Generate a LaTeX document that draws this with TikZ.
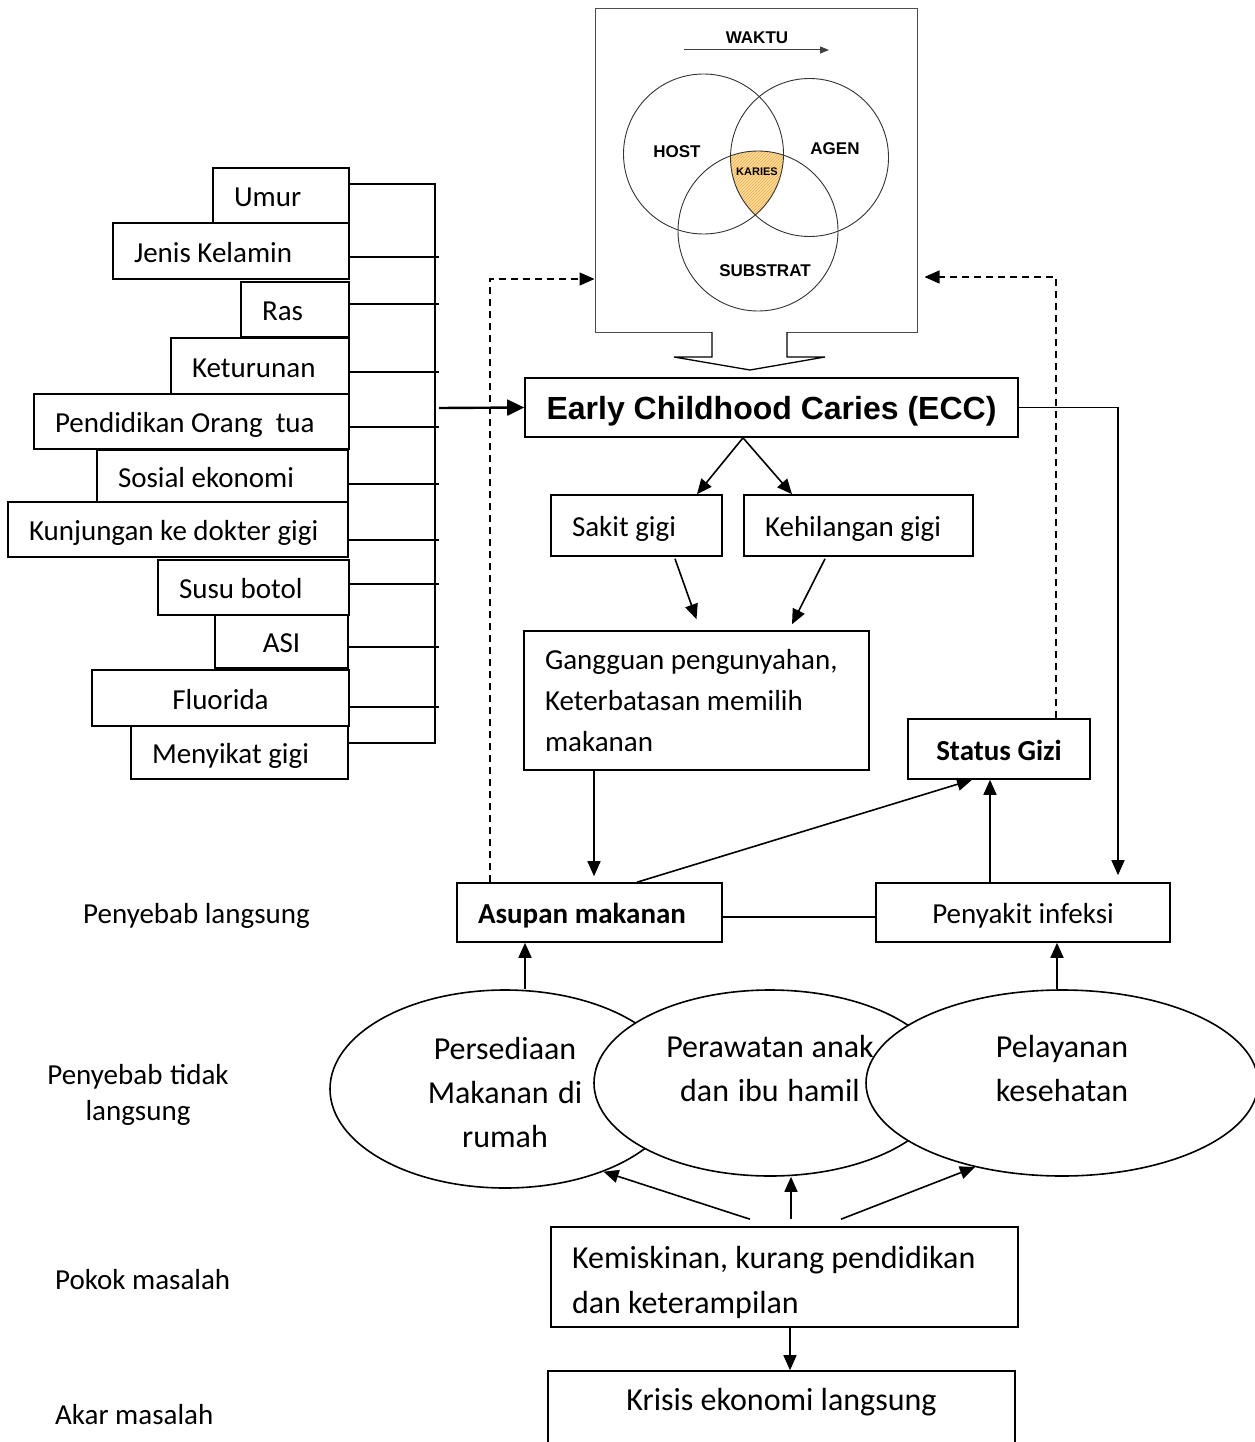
\documentclass[tikz,border=0pt]{standalone}
\usepackage{fontspec}
\setmainfont{Carlito}
\newfontfamily\arialf{Liberation Sans}
\usetikzlibrary{arrows.meta,patterns,shapes.geometric}
\newcommand\fsz[2]{\fontsize{#1}{#2}\selectfont}
\begin{document}
\begin{tikzpicture}[x=1pt,y=-1pt,
  nsp/.style={execute at begin node={\spaceskip=0pt\xspaceskip=0pt\relax}},
  box/.style={draw, line width=1.6pt, inner xsep=21pt, inner ysep=0pt, font=\fsz{29}{41}, nsp},
  lbox/.style={box, text width=#1, align=left},
  cbox/.style={box, minimum width=#1, inner xsep=0pt, align=center},
  one/.style={text height=22pt, text depth=0pt},
  arr/.style={line width=1.6pt, -{Triangle[length=15pt,width=13pt]}},
  ln/.style={line width=1.6pt},
  dsh/.style={line width=1.5pt, dash pattern=on 7pt off 5pt, -{Triangle[length=15pt,width=13pt]}},
  ell/.style={ellipse, draw, fill=white, line width=1.6pt, inner sep=0pt, text width=230pt, align=center, font=\fsz{32}{44}, text height=22pt, nsp},
  vt/.style={font=\arialf\bfseries\fsz{17}{20}, inner sep=0pt},
  lab/.style={font=\fsz{29}{36}, inner sep=0pt, nsp},
]
\fill[white] (0,0) rectangle (1254,1442);
\useasboundingbox (0,0) rectangle (1254,1442);

% ---------- left factor boxes ----------
\node[lbox=94pt, one, minimum height=55pt] (umur) at (281,195.5) {Umur};
\node[lbox=194pt, one, minimum height=56pt] (jk) at (231,251) {Jenis Kelamin};
\node[lbox=66pt, one, minimum height=55pt] (ras) at (295,309.5) {Ras};
\node[lbox=136pt, one, minimum height=56pt] (ket) at (260,366) {Keturunan};
\node[lbox=273pt, one, minimum height=55pt] (pend) at (191.5,421.5) {Pendidikan Orang\ \ tua};
\node[lbox=209pt, one, minimum height=52pt] (sos) at (222.5,476) {Sosial ekonomi};
\node[lbox=298pt, one, minimum height=55pt] (kun) at (178,529.5) {Kunjungan ke dokter gigi};
\node[lbox=149pt, one, minimum height=55pt] (susu) at (253.5,587.5) {Susu botol};
\node[cbox=133pt, one, minimum height=53pt] (asi) at (281.5,641.5) {ASI};
\node[cbox=257pt, one, minimum height=56pt] (fl) at (220.5,698) {Fluorida};
\node[lbox=175pt, one, minimum height=53pt] (meny) at (239.5,752.5) {Menyikat gigi};

% bracket
\coordinate (bt) at (435,184);
\coordinate (bb) at (435,743);
\draw[ln] (umur.east |- bt) -- (bt) -- (bb) -- (meny.east |- bb);
\foreach \n/\yy in {jk/257, ras/304, ket/372, pend/427, sos/484, kun/540, susu/584, asi/647, fl/707}
  \draw[ln] (\n.east |- 0,\yy) -- (439,\yy);

% ---------- Venn box ----------
\node[draw=black!70, line width=1pt, minimum width=322pt, minimum height=323pt, inner sep=0pt] (vb) at (756,170.5) {};
\begin{scope}
  \clip (703.5,154) circle[radius=80pt];
  \clip (809.5,157.5) circle[radius=79pt];
  \fill[fill={rgb,255:red,255;green,232;blue,110}] (758,231) circle[radius=80pt];
  \fill[pattern=north east lines, pattern color={rgb,255:red,240;green,150;blue,170}] (758,231) circle[radius=80pt];
\end{scope}
\draw[black!80, line width=0.9pt] (703.5,154) circle[radius=80pt];
\draw[black!80, line width=0.9pt] (809.5,157.5) circle[radius=79pt];
\draw[black!80, line width=0.9pt] (758,231) circle[radius=80pt];
\node[vt] (waktu) at (757,38) {WAKTU};
\coordinate (w1) at (684,50);
\coordinate (w2) at (829,50);
\draw[black!75, line width=1pt, -{Triangle[length=9pt,width=7pt]}] (w1) -- (w2);
\node[vt] (host) at (677,152) {HOST};
\node[vt] (agen) at (835,149) {AGEN};
\node[vt] (subs) at (765,271) {SUBSTRAT};
\node[vt, font=\arialf\bfseries\fsz{11}{13}] (kar) at (757,172) {KARIES};

% block arrow
\draw[line width=1.3pt, fill=white] (712,332) -- (712,357) -- (674,357) -- (750,370) -- (825,357) -- (787,357) -- (787,332);

% ---------- central chain ----------
\node[cbox=493pt, one, minimum height=59pt, font=\arialf\bfseries\fsz{32}{36}, text height=23pt] (ecc) at (771.5,407.5) {Early Childhood Caries (ECC)};
\coordinate (brk) at (439,408);
\draw[line width=2.4pt, -{Triangle[length=17pt,width=16pt]}] (brk) -- (ecc.west);

\node[lbox=129pt, one, minimum height=61pt] (sak) at (636.5,525.5) {Sakit gigi};
\node[lbox=187pt, one, minimum height=61pt] (keh) at (858.5,525.5) {Kehilangan gigi};
\node[lbox=303pt, minimum height=139pt, text height=22pt, text depth=85pt] (gg) at (696.5,700.5) {Gangguan pengunyahan,\\Keterbatasan memilih\\makanan};
\node[cbox=182pt, one, minimum height=60pt, font=\bfseries\fsz{29}{41}] (sgz) at (999,749) {Status Gizi};
\node[lbox=223pt, one, minimum height=59pt, font=\bfseries\fsz{29}{41}] (asu) at (589.5,912.5) {Asupan makanan};
\node[cbox=294pt, one, minimum height=59pt] (pi) at (1023,912.5) {Penyakit infeksi};

\draw[arr] ([xshift=-28.5pt]ecc.south) -- ([xshift=60.5pt]sak.north);
\draw[arr] ([xshift=-28.5pt]ecc.south) -- ([xshift=-66.5pt]keh.north);
\draw[arr] ([xshift=38.5pt,yshift=-2pt]sak.south) -- ([yshift=11pt]gg.north);
\draw[arr] ([xshift=-33.5pt,yshift=-2pt]keh.south) -- ([xshift=95.5pt,yshift=6pt]gg.north);
\coordinate (g1) at ([xshift=-102.5pt]gg.south);
\draw[arr, shorten >=6pt] (g1) -- (g1 |- asu.north);
\draw[arr] ([xshift=47.5pt]asu.north) -- ([xshift=-27pt]sgz.south);
\coordinate (p1) at ([xshift=-33pt]pi.north);
\draw[arr] (p1) -- (p1 |- sgz.south);
\draw[ln] ([yshift=-4.5pt]asu.east) -- ([yshift=-4.5pt]pi.west);

\draw[dsh] ([xshift=34pt]asu.north west) |- ([yshift=-108.5pt]vb.west);
\draw[dsh, shorten >=7pt] ([xshift=57pt]sgz.north) |- ([yshift=-106.5pt]vb.east);
\draw[arr, shorten >=7pt] (ecc.east) -| ([xshift=95pt]pi.north);

% ---------- ellipses ----------
\node[ell, minimum width=350pt, minimum height=198pt, text depth=82pt] (e1) at (505,1089) {Persediaan\\Makanan di\\rumah};
\node[ell, minimum width=352pt, minimum height=186pt, text depth=74pt] (e2) at (770,1083) {Perawatan anak\\dan ibu hamil};
\node[ell, minimum width=392pt, minimum height=186pt, text depth=74pt] (e3) at (1062,1083) {Pelayanan\\kesehatan};

\coordinate (e1t) at ([xshift=20pt]e1.north);
\draw[arr] (e1t) -- (e1t |- asu.south);
\coordinate (e3t) at ([xshift=-5pt]e3.north);
\draw[arr] (e3t) -- (e3t |- pi.south);

% ---------- bottom ----------
\node[lbox=425pt, minimum height=100pt, font=\fsz{32}{45}, text height=22pt, text depth=40pt] (km) at (784.5,1277) {Kemiskinan, kurang pendidikan\\dan keterampilan};
\node[cbox=467pt, minimum height=89pt, font=\fsz{32}{45}, text height=22pt, text depth=33pt] (kr) at (781.5,1415.5) {Krisis ekonomi langsung};

\draw[arr] ([xshift=-34.5pt,yshift=7pt]km.north) -- (e1.-40);
\coordinate (k2) at ([xshift=6.5pt,yshift=7pt]km.north);
\draw[arr] (k2) -- (k2 |- e2.south);
\draw[arr] ([xshift=56.5pt,yshift=7pt]km.north) -- (e3.-136);
\coordinate (k4) at ([xshift=5.5pt]km.south);
\draw[arr] (k4) -- (k4 |- kr.north);

% ---------- level labels ----------
\node[lab, anchor=base west] (l1) at (83,923) {Penyebab langsung};
\node[lab, anchor=base, text width=220pt, align=center] (l2) at (138,1084) {Penyebab tidak\\langsung};
\node[lab, anchor=base west] (l3) at (55,1289) {Pokok masalah};
\node[lab, anchor=base west] (l4) at (55,1424) {Akar masalah};
\end{tikzpicture}
\end{document}
